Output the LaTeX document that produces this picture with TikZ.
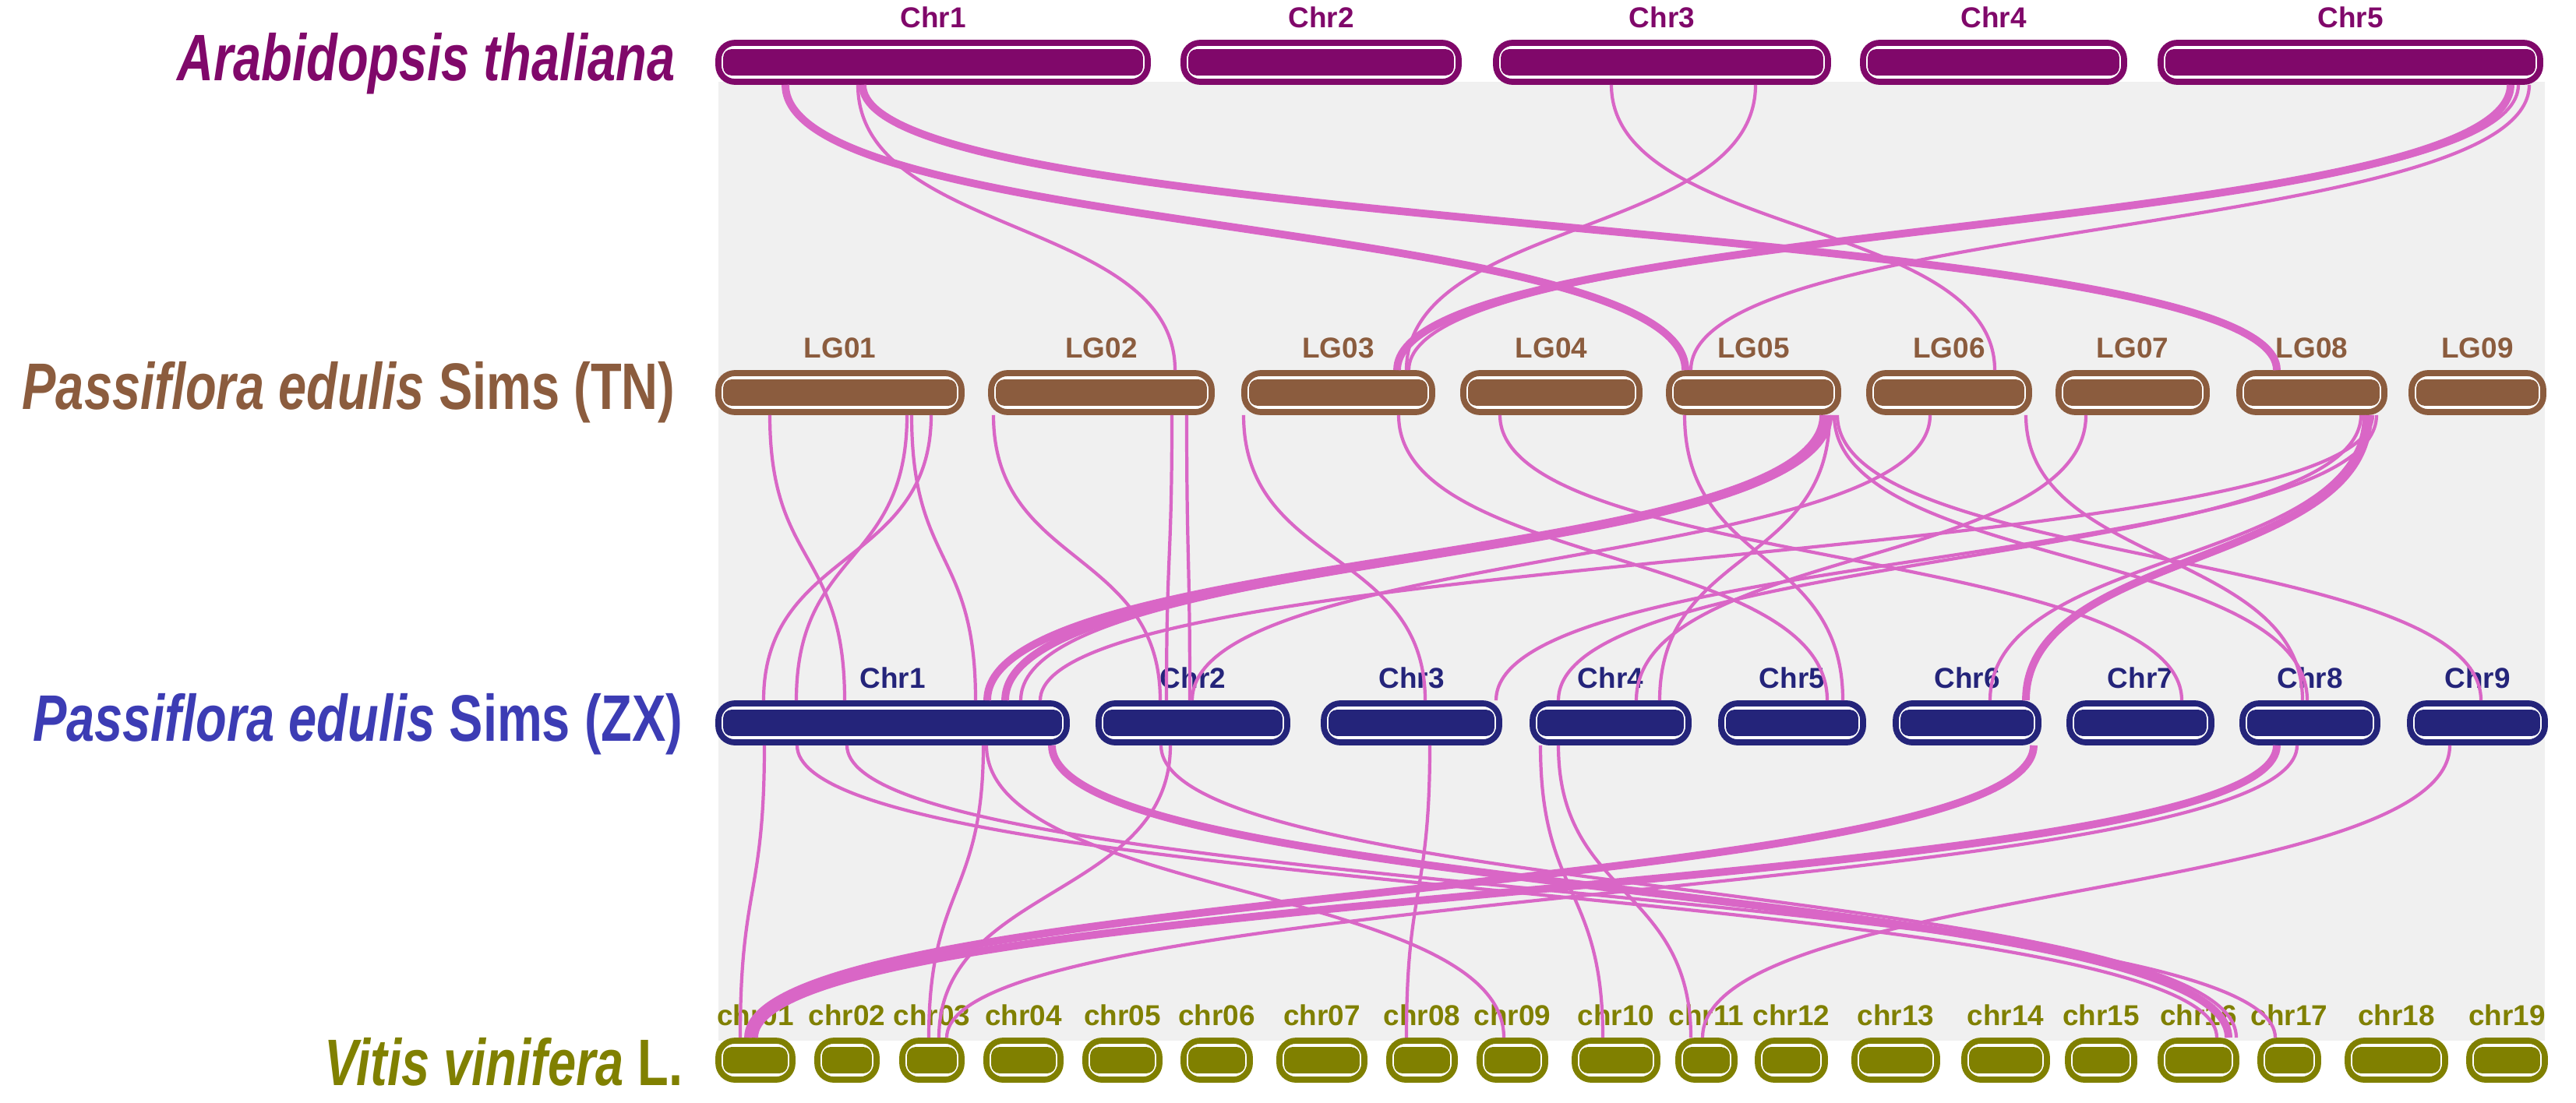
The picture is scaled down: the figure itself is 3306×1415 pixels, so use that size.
\documentclass[tikz,border=0pt]{standalone}
\usepackage{fontspec}
\setmainfont{Liberation Sans}
\usetikzlibrary{calc}
\definecolor{atcol}{RGB}{128,8,106}
\definecolor{tncol}{RGB}{139,92,62}
\definecolor{zxcol}{RGB}{36,36,122}
\definecolor{zxtxt}{RGB}{60,60,180}
\definecolor{vvcol}{RGB}{128,128,0}
\definecolor{pinkl}{RGB}{217,102,198}
\definecolor{bggray}{RGB}{240,240,240}
\newcommand\gap{195}
% one chromosome bar: name, x1, x2, y, colour, label
\newcommand\chrom[6]{%
  \node[bar,draw=#5,minimum width={(#3-#2)*0.01cm}] (#1) at ({(#2+#3)/2},#4) {};
  \fill[#5,rounded corners=3pt] ($(#1.south west)+(10,-12)$) rectangle ($(#1.north east)+(-10,12)$);
  \node[chrlab,text=#5] at ($(#1.north)+(0,-3)$) {#6};}
% synteny link from bar #2 at x=#3 to bar #4 at x=#5
\newcommand\syn[5][]{\draw[syn,#1] (#3,0 |- #2.south) .. controls +(0,\gap) and +(0,-\gap) .. (#5,0 |- #4.north);}
\begin{document}
\begin{tikzpicture}[x=0.01cm,y=-0.01cm,
    bar/.style={rounded corners=6pt,line width=2.2pt,fill=white,minimum height=0.5cm,inner sep=0pt},
    chrlab/.style={font=\bfseries\fontsize{10.5}{12}\selectfont,anchor=south},
    species/.style={font=\bfseries\fontsize{24}{28}\selectfont,anchor=east,xscale=0.77,transform shape},
    syn/.style={pinkl,line width=1.2pt},
    thk/.style={line width=2.8pt}]
  \useasboundingbox (0,0) rectangle (3306,1415);
  \fill[bggray] (922,105) rectangle (3266,1336);

  \node[species,text=atcol] (spat) at (876,82) {\itshape Arabidopsis thaliana};
  \node[species,text=tncol] (sptn) at (876,504) {\itshape Passiflora edulis\/\upshape\ Sims (TN)};
  \node[species,text=zxtxt] (spzx) at (886,930) {\itshape Passiflora edulis\/\upshape\ Sims (ZX)};
  \node[species,text=vvcol] (spvv) at (886,1363) {\itshape Vitis vinifera\/\upshape\ L.};

  % Arabidopsis
  \chrom{a1}{922}{1473}{80}{atcol}{Chr1}
  \chrom{a2}{1519}{1872}{80}{atcol}{Chr2}
  \chrom{a3}{1920}{2346}{80}{atcol}{Chr3}
  \chrom{a4}{2391}{2726}{80}{atcol}{Chr4}
  \chrom{a5}{2773}{3260}{80}{atcol}{Chr5}
  % TN
  \chrom{t1}{922}{1234}{504}{tncol}{LG01}
  \chrom{t2}{1272}{1555}{504}{tncol}{LG02}
  \chrom{t3}{1597}{1838}{504}{tncol}{LG03}
  \chrom{t4}{1878}{2104}{504}{tncol}{LG04}
  \chrom{t5}{2142}{2359}{504}{tncol}{LG05}
  \chrom{t6}{2399}{2604}{504}{tncol}{LG06}
  \chrom{t7}{2642}{2832}{504}{tncol}{LG07}
  \chrom{t8}{2874}{3060}{504}{tncol}{LG08}
  \chrom{t9}{3095}{3264}{504}{tncol}{LG09}
  % ZX
  \chrom{z1}{922}{1369}{928}{zxcol}{Chr1}
  \chrom{z2}{1410}{1652}{928}{zxcol}{Chr2}
  \chrom{z3}{1699}{1924}{928}{zxcol}{Chr3}
  \chrom{z4}{1967}{2167}{928}{zxcol}{Chr4}
  \chrom{z5}{2209}{2391}{928}{zxcol}{Chr5}
  \chrom{z6}{2433}{2616}{928}{zxcol}{Chr6}
  \chrom{z7}{2656}{2838}{928}{zxcol}{Chr7}
  \chrom{z8}{2878}{3051}{928}{zxcol}{Chr8}
  \chrom{z9}{3093}{3266}{928}{zxcol}{Chr9}
  % Vitis
  \chrom{v1}{922}{1017}{1361}{vvcol}{chr01}
  \chrom{v2}{1049}{1125}{1361}{vvcol}{chr02}
  \chrom{v3}{1158}{1234}{1361}{vvcol}{chr03}
  \chrom{v4}{1266}{1361}{1361}{vvcol}{chr04}
  \chrom{v5}{1393}{1488}{1361}{vvcol}{chr05}
  \chrom{v6}{1519}{1604}{1361}{vvcol}{chr06}
  \chrom{v7}{1642}{1751}{1361}{vvcol}{chr07}
  \chrom{v8}{1783}{1867}{1361}{vvcol}{chr08}
  \chrom{v9}{1899}{1983}{1361}{vvcol}{chr09}
  \chrom{v10}{2021}{2127}{1361}{vvcol}{chr10}
  \chrom{v11}{2154}{2226}{1361}{vvcol}{chr11}
  \chrom{v12}{2256}{2342}{1361}{vvcol}{chr12}
  \chrom{v13}{2380}{2486}{1361}{vvcol}{chr13}
  \chrom{v14}{2521}{2627}{1361}{vvcol}{chr14}
  \chrom{v15}{2654}{2739}{1361}{vvcol}{chr15}
  \chrom{v16}{2773}{2870}{1361}{vvcol}{chr16}
  \chrom{v17}{2901}{2975}{1361}{vvcol}{chr17}
  \chrom{v18}{3013}{3138}{1361}{vvcol}{chr18}
  \chrom{v19}{3169}{3266}{1361}{vvcol}{chr19}

  % Arabidopsis - TN
  \syn[thk]{a1}{1008}{t5}{2163}
  \syn{a1}{1101}{t2}{1508}
  \syn[thk]{a1}{1107}{t8}{2922}
  \syn{a3}{2068}{t6}{2560}
  \syn{a3}{2253}{t3}{1805}
  \syn[thk]{a5}{3222}{t3}{1793}
  \syn{a5}{3232}{t3}{1808}
  \syn{a5}{3246}{t5}{2170}
  % TN - ZX
  \syn{t1}{988}{z1}{1084}
  \syn{t1}{1164}{z1}{1022}
  \syn{t1}{1195}{z1}{980}
  \syn{t1}{1170}{z1}{1252}
  \syn{t2}{1275}{z2}{1489}
  \syn{t2}{1504}{z2}{1497}
  \syn{t2}{1523}{z2}{1527}
  \syn{t3}{1596}{z3}{1829}
  \syn{t3}{1795}{z5}{2345}
  \syn{t4}{1925}{z7}{2800}
  \syn[thk]{t5}{2340}{z1}{1267}
  \syn[thk]{t5}{2345}{z1}{1290}
  \syn{t5}{2350}{z1}{1310}
  \syn{t5}{2348}{z4}{2130}
  \syn{t5}{2162}{z5}{2365}
  \syn{t5}{2354}{z8}{2961}
  \syn{t5}{2358}{z9}{3184}
  \syn{t6}{2477}{z2}{1530}
  \syn{t7}{2600}{z8}{2955}
  \syn{t7}{2677}{z4}{2100}
  \syn[thk]{t8}{3040}{z6}{2600}
  \syn{t8}{3034}{z6}{2554}
  \syn{t8}{3045}{z1}{1335}
  \syn{t8}{3050}{z3}{1920}
  \syn{t8}{3030}{z4}{2000}
  % ZX - Vitis
  \syn{z1}{981}{v1}{950}
  \syn{z1}{1023}{v16}{2845}
  \syn{z1}{1087}{v17}{2920}
  \syn{z1}{1262}{v3}{1192}
  \syn{z1}{1266}{v9}{1930}
  \syn[thk]{z1}{1350}{v16}{2860}
  \syn{z2}{1490}{v16}{2870}
  \syn{z2}{1502}{v3}{1205}
  \syn{z3}{1835}{v8}{1805}
  \syn{z4}{1977}{v10}{2057}
  \syn{z4}{2000}{v11}{2170}
  \syn[thk]{z6}{2610}{v1}{960}
  \syn[thk]{z8}{2922}{v1}{968}
  \syn{z8}{2948}{v3}{1215}
  \syn{z9}{3144}{v11}{2185}
\end{tikzpicture}
\end{document}
